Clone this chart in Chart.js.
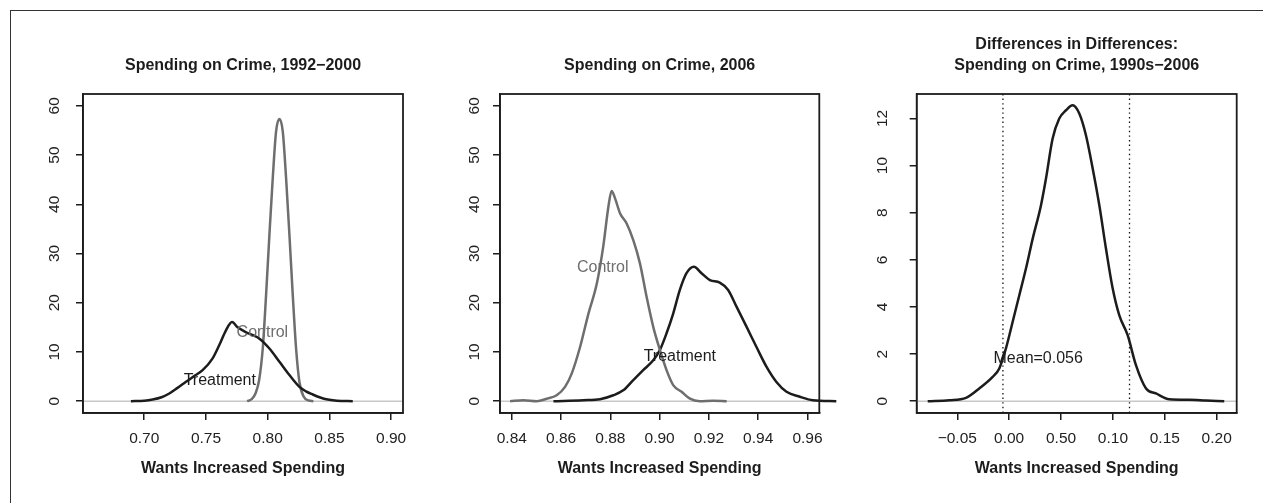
<!DOCTYPE html>
<html>
<head>
<meta charset="utf-8">
<title>Spending on Crime</title>
<script src="https://cdn.jsdelivr.net/npm/chart.js@4/dist/chart.umd.min.js"></script>
<style>
  html, body { margin: 0; padding: 0; background: #ffffff; }
  #wrap { position: relative; width: 1263px; height: 503px; overflow: hidden; background: #ffffff; }
  #wrap canvas { position: absolute; left: 0; top: 0; }
  #frame { position: absolute; left: 10px; top: 10px; width: 1300px; height: 600px;
           border-left: 1.5px solid #333; border-top: 1.5px solid #333; }
</style>
</head>
<body>
<div id="wrap">
  <div id="frame"></div>
  <canvas id="c1" width="1263" height="503"></canvas>
  <canvas id="c2" width="1263" height="503"></canvas>
  <canvas id="c3" width="1263" height="503"></canvas>
</div>
<script>
// ---- Panel 1: Spending on Crime, 1992-2000 (posterior densities) ----
const p1Title = ['Spending on Crime, 1992\u22122000'];
const t1x = [0.6892, 0.7000, 0.7068, 0.7140, 0.7203, 0.7270, 0.7338, 0.7405, 0.7473, 0.7554, 0.7608, 0.7662, 0.7711, 0.7757, 0.7825, 0.7880, 0.7933, 0.8014, 0.8095, 0.8176, 0.8257, 0.8310, 0.8365, 0.8420, 0.8474, 0.8560, 0.8689];
const t1y = [0, 0.1, 0.34, 0.8, 1.56, 2.7, 3.93, 5.1, 6.3, 8.7, 11.4, 14.4, 16.1, 15.0, 14.0, 13.4, 12.7, 10.7, 8.0, 5.3, 2.9, 2.0, 1.36, 0.8, 0.4, 0.1, 0];
const c1x = [0.7833, 0.7870, 0.7900, 0.7930, 0.7960, 0.7987, 0.8014, 0.8041, 0.8068, 0.8095, 0.8122, 0.8149, 0.8176, 0.8203, 0.8230, 0.8257, 0.8290, 0.8330, 0.8370];
const c1y = [0, 0.4, 1.5, 4.2, 10.7, 21.6, 33.8, 45.3, 54.8, 57.3, 54.8, 45.3, 33.8, 21.6, 10.7, 3.9, 1.0, 0.15, 0];
const p1XTicks = [0.70, 0.75, 0.80, 0.85, 0.90];
const p1XTickLabels = ['0.70', '0.75', '0.80', '0.85', '0.90'];
const p1YTicks = [0, 10, 20, 30, 40, 50, 60];
const p1XRange = [0.6504, 0.9096];
const p1YRange = [-2.4, 62.4];
const p1NoteText = ['Treatment', 'Control'];
const p1NoteX = [0.7612, 0.7957];
const p1NoteY = [4.13, 13.97];

// ---- Panel 2: Spending on Crime, 2006 ----
const p2Title = ['Spending on Crime, 2006'];
const c2x = [0.8393, 0.8447, 0.8501, 0.8542, 0.8582, 0.8616, 0.8643, 0.8677, 0.8711, 0.8745, 0.8771, 0.8792, 0.8805, 0.8819, 0.8839, 0.8866, 0.8893, 0.8920, 0.8947, 0.8974, 0.9001, 0.9028, 0.9055, 0.9089, 0.9123, 0.9163, 0.9217, 0.9272];
const c2y = [0, 0.2, 0, 0.5, 1.2, 2.9, 5.6, 11.0, 17.8, 23.9, 31.4, 39.5, 42.7, 41.2, 38.2, 36.1, 32.7, 28.0, 21.2, 15.1, 10.4, 6.3, 3.25, 1.9, 0.5, 0, 0.1, 0];
const t2x = [0.8569, 0.8690, 0.8758, 0.8812, 0.8852, 0.8893, 0.8933, 0.8974, 0.9001, 0.9028, 0.9055, 0.9082, 0.9109, 0.9139, 0.9170, 0.9204, 0.9244, 0.9278, 0.9312, 0.9353, 0.9393, 0.9434, 0.9474, 0.9515, 0.9569, 0.9622, 0.9717];
const t2y = [0, 0.2, 0.4, 1.2, 2.2, 4.3, 6.3, 8.3, 10.4, 13.8, 17.8, 22.6, 26.0, 27.3, 26.0, 24.6, 24.1, 22.6, 19.2, 15.1, 11.0, 6.96, 3.9, 1.9, 0.9, 0.2, 0];
const p2XTicks = [0.84, 0.86, 0.88, 0.90, 0.92, 0.94, 0.96];
const p2XTickLabels = ['0.84', '0.86', '0.88', '0.90', '0.92', '0.94', '0.96'];
const p2YTicks = [0, 10, 20, 30, 40, 50, 60];
const p2XRange = [0.8352, 0.9648];
const p2YRange = [-2.4, 62.4];
const p2NoteText = ['Control', 'Treatment'];
const p2NoteX = [0.8769, 0.9082];
const p2NoteY = [27.1, 9.15];

// ---- Panel 3: difference in differences ----
const p3Title = ['Differences in Differences:', 'Spending on Crime, 1990s\u22122006'];
const dx = [-0.0785, -0.0577, -0.0416, -0.0288, -0.0159, -0.0095, -0.0031, 0.0034, 0.0098, 0.0162, 0.0227, 0.0307, 0.0355, 0.0419, 0.0483, 0.0548, 0.0612, 0.0676, 0.0740, 0.0805, 0.0869, 0.0933, 0.0998, 0.1061, 0.1142, 0.1222, 0.1319, 0.1415, 0.1543, 0.1736, 0.1897, 0.2073];
const dy = [0, 0.04, 0.14, 0.54, 1.03, 1.39, 2.24, 3.37, 4.5, 5.63, 6.9, 8.32, 9.45, 11.15, 12.0, 12.35, 12.56, 12.21, 11.29, 9.88, 8.32, 6.48, 4.78, 3.65, 2.8, 1.53, 0.54, 0.33, 0.08, 0.06, 0.03, 0];
const p3XTicks = [-0.05, 0.00, 0.05, 0.10, 0.15, 0.20];
const p3XTickLabels = ['\u22120.05', '0.00', '0.50', '0.10', '0.15', '0.20'];
const p3YTicks = [0, 2, 4, 6, 8, 10, 12];
const p3XRange = [-0.0891, 0.2193];
const p3YRange = [-0.5016, 13.04];
const p3Interval = [-0.006, 0.116];
const p3NoteText = ['Mean=0.056'];
const p3NoteX = [0.028];
const p3NoteY = [1.81];

// ---- drawing ----
Chart.defaults.font.family = "'Liberation Sans', Arial, Helvetica, sans-serif";
Chart.defaults.color = '#222';

const W = 1263, H = 503;
const INK = '#1c1c1c', GREY = '#6e6e6e', ZERO = '#c8c8c8';
const FONT = "'Liberation Sans', Arial, Helvetica, sans-serif";

function series(xs, ys, color) {
  return {
    data: xs.map((v, i) => ({ x: v, y: ys[i] })),
    showLine: true, borderColor: color, borderWidth: 2.5,
    pointRadius: 0, pointHoverRadius: 0, fill: false,
    cubicInterpolationMode: 'monotone', clip: false
  };
}

function decor(cfg) {
  return {
    id: 'decor' + cfg.id,
    beforeDatasetsDraw(chart) {
      const { ctx, chartArea: a, scales: { x, y } } = chart;
      ctx.save();
      // reference line at zero density
      const y0 = y.getPixelForValue(0);
      ctx.strokeStyle = ZERO; ctx.lineWidth = 1.6;
      ctx.beginPath(); ctx.moveTo(a.left, y0); ctx.lineTo(a.right, y0); ctx.stroke();
      // interval bounds
      if (cfg.vlines) {
        ctx.strokeStyle = '#111'; ctx.lineWidth = 1.3; ctx.setLineDash([1.4, 3.2]);
        cfg.vlines.forEach(v => {
          const px = x.getPixelForValue(v);
          ctx.beginPath(); ctx.moveTo(px, a.top); ctx.lineTo(px, a.bottom); ctx.stroke();
        });
      }
      ctx.restore();
    },
    afterDraw(chart) {
      const { ctx, chartArea: a, scales: { x, y } } = chart;
      ctx.save();
      // plot box
      ctx.strokeStyle = INK; ctx.lineWidth = 1.8;
      ctx.strokeRect(a.left, a.top, a.right - a.left, a.bottom - a.top);
      // rotated y tick labels
      ctx.fillStyle = '#222';
      ctx.font = '15.5px ' + FONT;
      ctx.textAlign = 'center'; ctx.textBaseline = 'alphabetic';
      y.ticks.forEach(t => {
        const py = y.getPixelForValue(t.value);
        ctx.save();
        ctx.translate(a.left - cfg.yLabelGap + 5.5, py);
        ctx.rotate(-Math.PI / 2);
        ctx.fillText(String(t.value), 0, 0);
        ctx.restore();
      });
      // title
      ctx.fillStyle = INK;
      ctx.font = 'bold 16px ' + FONT;
      ctx.textBaseline = 'middle';
      const cx = (a.left + a.right) / 2;
      const n = cfg.title.length;
      cfg.title.forEach((line, i) => {
        ctx.fillText(line, cx, a.top - 28.3 - (n - 1 - i) * 21.6);
      });
      // in-plot annotations
      ctx.font = '16px ' + FONT;
      cfg.notes.text.forEach((txt, i) => {
        ctx.fillStyle = cfg.notes.color[i];
        ctx.fillText(txt, x.getPixelForValue(cfg.notes.x[i]), y.getPixelForValue(cfg.notes.y[i]));
      });
      ctx.restore();
    }
  };
}

function makePanel(cfg) {
  const [left, top, right, bottom] = cfg.box;
  const yAxisW = 40;
  return new Chart(document.getElementById(cfg.id), {
    type: 'scatter',
    data: { datasets: cfg.datasets },
    options: {
      responsive: false, animation: false, events: [],
      layout: { padding: { left: left - yAxisW, top: top, right: W - right, bottom: 0 } },
      plugins: { legend: { display: false }, tooltip: { enabled: false }, title: { display: false } },
      scales: {
        x: {
          type: 'linear', position: 'bottom',
          min: cfg.xRange[0], max: cfg.xRange[1],
          afterBuildTicks: s => { s.ticks = cfg.xTicks.map(v => ({ value: v })); },
          afterFit: s => { s.height = H - bottom; },
          ticks: {
            callback: (v, i) => cfg.xTickLabels[i],
            font: { size: 15.5 }, color: '#222', padding: 9,
            maxRotation: 0, minRotation: 0, autoSkip: false
          },
          grid: { drawOnChartArea: false, drawTicks: true, tickLength: 7, color: INK, lineWidth: 1.5 },
          border: { display: true, color: INK, width: 1.5 },
          title: {
            display: true, text: 'Wants Increased Spending', color: INK,
            font: { size: 16, weight: 'bold' }, padding: { top: 0, bottom: 25 }
          }
        },
        y: {
          type: 'linear', position: 'left',
          min: cfg.yRange[0], max: cfg.yRange[1],
          afterBuildTicks: s => { s.ticks = cfg.yTicks.map(v => ({ value: v })); },
          afterFit: s => { s.width = yAxisW; },
          ticks: { display: false },
          grid: { drawOnChartArea: false, drawTicks: true, tickLength: 7, color: INK, lineWidth: 1.5 },
          border: { display: true, color: INK, width: 1.5 }
        }
      }
    },
    plugins: [decor(cfg)]
  });
}

makePanel({
  id: 'c1', box: [83, 94, 403, 413], yLabelGap: 30,
  title: p1Title, xRange: p1XRange, yRange: p1YRange,
  xTicks: p1XTicks, xTickLabels: p1XTickLabels, yTicks: p1YTicks,
  datasets: [series(t1x, t1y, INK), series(c1x, c1y, GREY)],
  notes: { text: p1NoteText, x: p1NoteX, y: p1NoteY, color: [INK, GREY] }
});

makePanel({
  id: 'c2', box: [500, 94, 819.3, 413], yLabelGap: 27,
  title: p2Title, xRange: p2XRange, yRange: p2YRange,
  xTicks: p2XTicks, xTickLabels: p2XTickLabels, yTicks: p2YTicks,
  datasets: [series(c2x, c2y, GREY), series(t2x, t2y, INK)],
  notes: { text: p2NoteText, x: p2NoteX, y: p2NoteY, color: [GREY, INK] }
});

makePanel({
  id: 'c3', box: [916.7, 94, 1236.7, 413], yLabelGap: 35,
  title: p3Title, xRange: p3XRange, yRange: p3YRange,
  xTicks: p3XTicks, xTickLabels: p3XTickLabels, yTicks: p3YTicks,
  datasets: [series(dx, dy, INK)],
  vlines: p3Interval,
  notes: { text: p3NoteText, x: p3NoteX, y: p3NoteY, color: [INK] }
});
</script>
</body>
</html>
